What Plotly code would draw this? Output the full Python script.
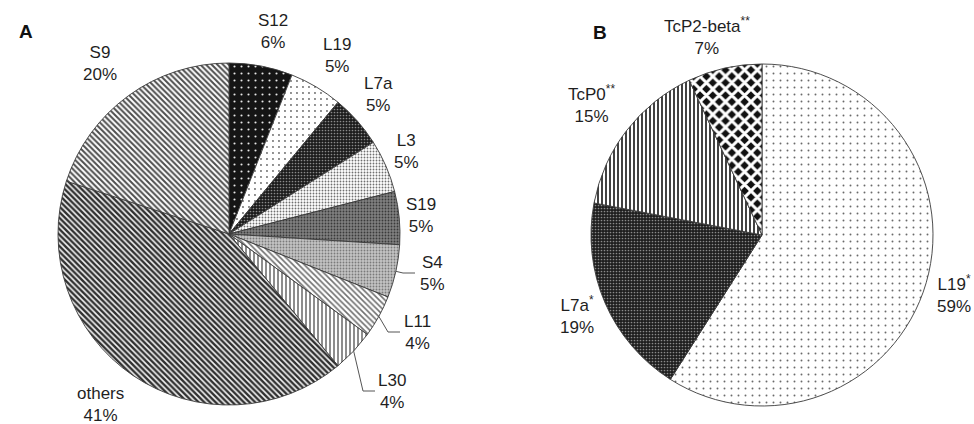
import math
import plotly.graph_objects as go

# ---------------- data ----------------
# Panel A
a_labels = ["S12", "L19", "L7a", "L3", "S19", "S4", "L11", "L30", "others", "S9"]
a_values = [6, 5, 5, 5, 5, 5, 4, 4, 41, 20]

# Panel B
b_labels = ["L19<sup>*</sup>", "L7a<sup>*</sup>", "TcP0<sup>**</sup>", "TcP2-beta<sup>**</sup>"]
b_values = [59, 19, 15, 7]

# ---------------- layout / style ----------------
W, H = 974, 424
TXT = "#1f1f1f"
FONT = "Liberation Sans, Arial, sans-serif"

# pie boxes in pixels (left, top, right, bottom)
a_box = (58, 63, 400, 405)
b_box = (591, 64, 933, 406)

# label block centres in pixels (layout only)
a_label_pos = [(273, 32), (337, 55), (378, 94), (406, 152), (421, 215),
               (432, 273), (417, 332), (392, 391), (100, 404), (100, 63)]
a_leader = [False, False, False, False, False, True, True, True, False, False]
b_label_pos = [(954, 294), (577, 315), (591, 104), (707, 36)]

# pattern styles (shape, bg, fg, size, solidity)
a_pat = [
    (".", "#151515", "#e8e8e8", 7, 0.07),
    (".", "#ffffff", "#6a6a6a", 6, 0.08),
    (".", "#1c1c1c", "#8a8a8a", 3, 0.25),
    (".", "#ffffff", "#707070", 3, 0.3),
    (".", "#808080", "#3a3a3a", 3, 0.3),
    (".", "#c4c4c4", "#7a7a7a", 3, 0.3),
    ("\\", "#ffffff", "#707070", 4, 0.4),
    ("|", "#ffffff", "#707070", 4, 0.4),
    ("\\", "#f4f4f4", "#303030", 4, 0.6),
    ("\\", "#ffffff", "#4e4e4e", 4, 0.5),
]
b_pat = [
    (".", "#ffffff", "#6a6a6a", 7, 0.06),
    (".", "#1e1e1e", "#8a8a8a", 3, 0.25),
    ("|", "#ffffff", "#111111", 4, 0.4),
    ("x", "#111111", "#ffffff", 9, 0.55),
]


def pat(lst):
    return dict(shape=[p[0] for p in lst], bgcolor=[p[1] for p in lst],
                fgcolor=[p[2] for p in lst], size=[p[3] for p in lst],
                solidity=[p[4] for p in lst], fillmode="replace")


def dom(box):
    l, t, r, b = box
    return dict(x=[l / W, r / W], y=[(H - b) / H, (H - t) / H])


fig = go.Figure()
for labels, values, box, p in [(a_labels, a_values, a_box, a_pat),
                               (b_labels, b_values, b_box, b_pat)]:
    fig.add_trace(go.Pie(
        labels=labels, values=values, sort=False, direction="clockwise", rotation=0,
        textinfo="none", hoverinfo="label+value",
        marker=dict(pattern=pat(p), colors=[q[1] for q in p],
                    line=dict(color="#3a3a3a", width=0.9)),
        domain=dom(box), showlegend=False,
    ))


def add_labels(labels, values, pos, box, leaders=None):
    total = float(sum(values))
    cx = (box[0] + box[2]) / 2
    cy = (box[1] + box[3]) / 2
    R = min(box[2] - box[0], box[3] - box[1]) / 2
    cum = 0.0
    for i, (lab, v) in enumerate(zip(labels, values)):
        mid = (cum + v / 2) / total * 2 * math.pi
        cum += v
        x, y = pos[i]
        fig.add_annotation(text=f"{lab}<br>{v}%", x=x / W, y=1 - y / H,
                           xref="paper", yref="paper", showarrow=False,
                           xanchor="center", yanchor="middle", align="center",
                           font=dict(family=FONT, size=17, color=TXT))
        if leaders and leaders[i]:
            ex = cx + R * math.sin(mid)
            ey = cy - R * math.cos(mid)
            left = x - 17
            path = (f"M {ex / W},{1 - ey / H} L {(left - 12) / W},{1 - y / H} "
                    f"L {left / W},{1 - y / H}")
            fig.add_shape(type="path", path=path, xref="paper", yref="paper",
                          line=dict(color="#555555", width=1))


add_labels(a_labels, a_values, a_label_pos, a_box, a_leader)
add_labels(b_labels, b_values, b_label_pos, b_box)

fig.add_annotation(text="<b>A</b>", x=17 / W, y=1 - 19 / H, xref="paper", yref="paper",
                   showarrow=False, font=dict(family=FONT, size=19, color="#111111"))
fig.add_annotation(text="<b>B</b>", x=600 / W, y=1 - 20 / H, xref="paper", yref="paper",
                   showarrow=False, font=dict(family=FONT, size=19, color="#111111"))
fig.update_layout(width=W, height=H, margin=dict(l=0, r=0, t=0, b=0),
                  paper_bgcolor="white", plot_bgcolor="white",
                  font=dict(family=FONT, color=TXT))
fig.write_html("out.html", config={"displayModeBar": False},
               post_script="document.body.style.margin='0px';")
